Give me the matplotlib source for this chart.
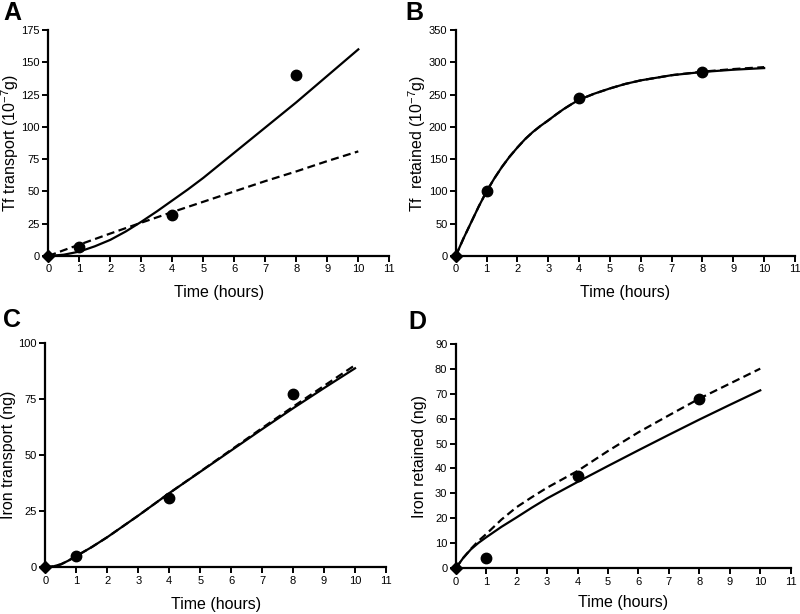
import matplotlib
matplotlib.use("Agg")
import matplotlib.pyplot as plt

plt.rcParams['font.family'] = ['Liberation Sans', 'DejaVu Sans']
plt.rcParams['mathtext.fontset'] = 'custom'
plt.rcParams['mathtext.rm'] = 'Liberation Sans'
plt.rcParams['mathtext.it'] = 'Liberation Sans:italic'
plt.rcParams['mathtext.bf'] = 'Liberation Sans:bold'

# ---------------- data ----------------
t_obs = [0, 1, 4, 8]

# Panel A: Tf transport
a_obs = [0, 7, 32, 140]
a_t = [0, 0.5, 1, 1.5, 2, 2.5, 3, 3.5, 4, 4.5, 5, 6, 7, 8, 9, 10]
a_solid = [0, 1, 3.4, 7.5, 12.5, 19, 26.5, 34.5, 43, 51.5, 60.5, 80, 99.5, 119, 139.5, 160]
a_dash = [0, 4.5, 8.8, 13.1, 17.4, 21.6, 25.8, 29.9, 34, 38, 42, 50, 58, 65.5, 73.5, 81]

# Panel B: Tf retained
b_obs = [0, 100, 244, 285]
b_t = [0, 0.25, 0.5, 0.75, 1, 1.25, 1.5, 1.75, 2, 2.25, 2.5, 2.75, 3, 3.25, 3.5,
       3.75, 4, 4.5, 5, 5.5, 6, 7, 8, 9, 10]
b_solid = [0, 27, 52, 77, 100, 120, 138, 154, 168, 181, 192, 201.5, 210, 219, 227.5,
           235, 242, 251.5, 259.5, 266.5, 272, 280, 285, 288.5, 291]
b_dash = [0, 27, 52, 77, 100, 120, 138, 154, 168, 181, 192, 201.5, 210, 219, 227.5,
          235, 242, 251.5, 259.5, 266.5, 272, 280, 285.5, 289.5, 292.5]

# Panel C: Iron transport
c_obs = [0, 5, 31, 77]
c_t = [0, 0.25, 0.5, 0.75, 1, 1.5, 2, 2.5, 3, 4, 5, 6, 7, 8, 9, 10]
c_solid = [0, 0.4, 1.3, 3, 5, 9, 13.4, 18.2, 23, 33, 42.5, 52, 61.5, 70.8, 79.8, 88.6]
c_dash = [0, 0.4, 1.3, 3, 5, 9, 13.4, 18.2, 23, 33, 42.6, 52.3, 62, 71.5, 80.8, 90]

# Panel D: Iron retained
d_obs = [0, 4, 37, 68]
d_t = [0, 0.25, 0.5, 0.75, 1, 1.5, 2, 2.5, 3, 4, 5, 6, 7, 8, 9, 10]
d_solid = [0, 4.2, 7.6, 10.2, 12.4, 16.6, 20.4, 24.3, 28, 34.6, 41, 47.3, 53.5, 59.6, 65.5, 71.3]
d_dash = [0, 4.2, 7.8, 11, 13.7, 19.5, 24.5, 28.5, 32.3, 39, 47, 54.5, 61.3, 68, 74, 80]

x_ticks = list(range(0, 12))
panels = [
    dict(letter='A', ylabel='Tf transport (10$^{-7}$g)', ymax=175, ystep=25,
         obs=a_obs, t=a_t, solid=a_solid, dash=a_dash,
         rect=(48.3, 30, 389.3, 256), ylab_x=10, xlab_y=293, let=(12, 13)),
    dict(letter='B', ylabel='Tf  retained (10$^{-7}$g)', ymax=350, ystep=50,
         obs=b_obs, t=b_t, solid=b_solid, dash=b_dash,
         rect=(455.7, 30, 795, 256), ylab_x=417, xlab_y=293, let=(414, 13)),
    dict(letter='C', ylabel='Iron transport (ng)', ymax=100, ystep=25,
         obs=c_obs, t=c_t, solid=c_solid, dash=c_dash,
         rect=(45.3, 342.7, 386, 567.3), ylab_x=9, xlab_y=604, let=(12, 320)),
    dict(letter='D', ylabel='Iron retained (ng)', ymax=90, ystep=10,
         obs=d_obs, t=d_t, solid=d_solid, dash=d_dash,
         rect=(455.7, 343.7, 790.7, 568.3), ylab_x=419, xlab_y=603, let=(417, 322)),
]

W, H = 800, 614
fig = plt.figure(figsize=(W / 100, H / 100), dpi=100)

for p in panels:
    x0, y0, x1, y1 = p['rect']
    ax = fig.add_axes([x0 / W, 1 - y1 / H, (x1 - x0) / W, (y1 - y0) / H])
    ax.plot(p['t'], p['dash'], color='black', lw=1.6, ls=(0, (3.6, 2.0)))
    ax.plot(p['t'], p['solid'], color='black', lw=1.6)
    ax.plot(t_obs[1:], p['obs'][1:], 'o', color='black', ms=7.5, clip_on=False, zorder=5)
    ax.plot(t_obs[:1], p['obs'][:1], 'D', color='black', ms=6.5, clip_on=False, zorder=5)
    ax.set_xlim(0, 11)
    ax.set_ylim(0, p['ymax'])
    ax.set_xticks(x_ticks)
    ax.set_yticks(list(range(0, p['ymax'] + 1, p['ystep'])))
    for s in ('top', 'right'):
        ax.spines[s].set_visible(False)
    for s in ('left', 'bottom'):
        ax.spines[s].set_linewidth(1.6)
    ax.tick_params(direction='out', length=4, width=1.4, labelsize=8, pad=2)
    ax.set_xlabel('Time (hours)', fontsize=11.5)
    ax.set_ylabel(p['ylabel'], fontsize=11.5)
    ax.xaxis.set_label_coords((x0 + x1) / 2 / W, 1 - p['xlab_y'] / H, transform=fig.transFigure)
    ax.xaxis.label.set_va('center')
    ax.yaxis.set_label_coords(p['ylab_x'] / W, 1 - (y0 + y1) / 2 / H, transform=fig.transFigure)
    ax.yaxis.label.set_va('center')
    fig.text(p['let'][0] / W, 1 - p['let'][1] / H, p['letter'], fontsize=18,
             fontweight='bold', ha='center', va='center')

fig.savefig('out.png', dpi=100)
